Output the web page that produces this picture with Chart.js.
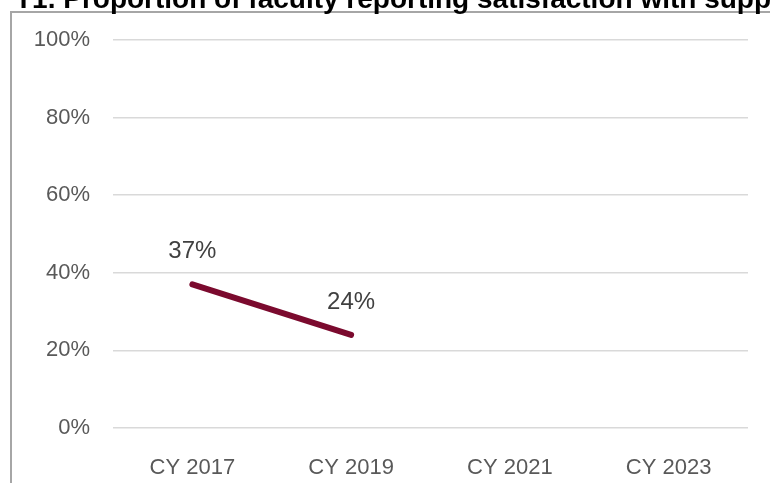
<!DOCTYPE html>
<html>
<head>
<meta charset="utf-8">
<script src="https://cdn.jsdelivr.net/npm/chart.js@4"></script>
<style>
  html, body { margin: 0; padding: 0; background: #fff; overflow: hidden; }
  #wrap { position: relative; width: 770px; height: 483px; overflow: hidden; }
  #frame { position: absolute; left: 10px; top: 11px; right: -2px; bottom: -2px;
           border-left: 2px solid #a6a6a6; border-top: 2px solid #a6a6a6; }
  #title { position: absolute; left: 15px; top: -15px; white-space: nowrap;
           font: bold 28px "Liberation Sans", Arial, sans-serif; line-height: 28px; color: #000; }
  canvas { position: absolute; left: 0; top: 0; }
</style>
</head>
<body>
<div id="wrap">
  <div id="frame"></div>
  <canvas id="chart" width="770" height="483"></canvas>
  <div id="title">T1. Proportion of faculty reporting satisfaction with support</div>
</div>
<script>
// Chart data
const years = ['CY 2017', 'CY 2019', 'CY 2021', 'CY 2023'];
const satisfaction = [37, 24, null, null];
const yTicks = [0, 20, 40, 60, 80, 100];

// Simple value labels above each point
const pointLabels = {
    id: 'pointLabels',
    afterDatasetsDraw(chart) {
        const ctx = chart.ctx;
        const meta = chart.getDatasetMeta(0);
        ctx.save();
        ctx.font = '24px "Liberation Sans", Arial, sans-serif';
        ctx.fillStyle = '#404040';
        ctx.textAlign = 'center';
        ctx.textBaseline = 'middle';
        meta.data.forEach((pt, i) => {
            const v = satisfaction[i];
            if (v === null) return;
            ctx.fillText(v + '%', pt.x, pt.y - 33);
        });
        ctx.restore();
    }
};

const tickFont = { family: '"Liberation Sans", Arial, sans-serif', size: 22 };

const ctx = document.getElementById('chart').getContext('2d');
new Chart(ctx, {
    type: 'line',
    data: {
        labels: years,
        datasets: [{
            data: satisfaction,
            borderColor: '#7b0a2e',
            borderWidth: 6,
            borderCapStyle: 'round',
            pointRadius: 0,
            fill: false,
            tension: 0
        }]
    },
    options: {
        responsive: false,
        animation: false,
        layout: { padding: { left: 20, right: 22, top: 40, bottom: 0 } },
        plugins: {
            legend: { display: false },
            tooltip: { enabled: false }
        },
        scales: {
            x: {
                offset: true,
                grid: { display: false },
                border: { display: false },
                ticks: { color: '#595959', padding: 19, font: tickFont },
                afterFit: s => { s.height = 55; }
            },
            y: {
                min: 0,
                max: 100,
                afterBuildTicks: s => { s.ticks = yTicks.map(v => ({ value: v })); },
                grid: { color: '#d9d9d9', lineWidth: 1.5, drawTicks: false },
                border: { display: false },
                ticks: {
                    color: '#595959',
                    padding: 23,
                    callback: v => v + '%',
                    font: tickFont
                },
                afterFit: s => { s.width = 93; }
            }
        }
    },
    plugins: [pointLabels]
});
</script>
</body>
</html>
